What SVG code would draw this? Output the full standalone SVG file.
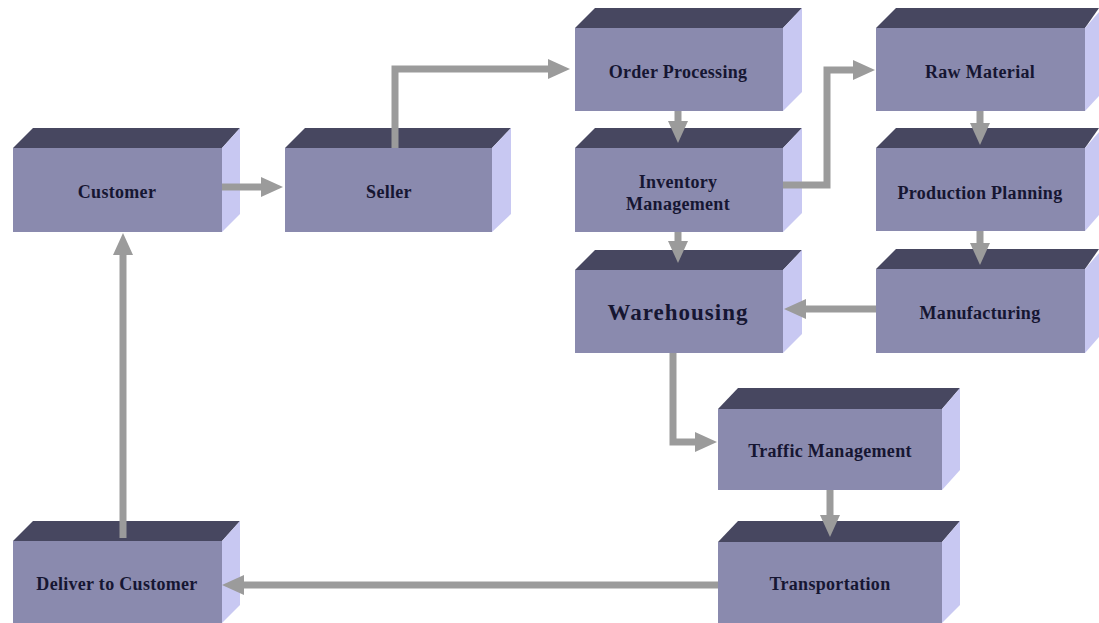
<svg xmlns="http://www.w3.org/2000/svg" width="1099" height="623" viewBox="0 0 1099 623">
  <defs>
    <style>
      .front { fill: #8a8aae; }
      .top { fill: #474760; }
      .side { fill: #c8c8f2; }
      .label { font-family: "Liberation Serif", "Times New Roman", serif; font-weight: bold; font-size: 18px; letter-spacing: 0.3px; fill: #161632; text-anchor: middle; dominant-baseline: central; }
      .big { font-size: 23px; letter-spacing: 1px; }
      .conn { fill: none; stroke: #9b9b9b; stroke-width: 7; stroke-linejoin: miter; }
    </style>
    <marker id="arrow" viewBox="0 0 22 20" markerWidth="22" markerHeight="20" refX="10" refY="10" orient="auto" markerUnits="userSpaceOnUse">
      <path d="M0,0 L22,10 L0,20 z" fill="#9b9b9b"/>
    </marker>
  </defs>
  <rect width="1099" height="623" fill="#ffffff"/>

  <!-- Nodes: front face, top face, right side face -->
  <g id="customer">
    <polygon class="top" points="13,148 33,128 240,128 222,148"/>
    <polygon class="side" points="222,148 240,128 240,214 222,232"/>
    <rect class="front" x="13" y="148" width="209" height="84"/>
    <text class="label" x="117" y="192">Customer</text>
  </g>
  <g id="seller">
    <polygon class="top" points="285,148 305,128 511,128 492,148"/>
    <polygon class="side" points="492,148 511,128 511,214 492,232"/>
    <rect class="front" x="285" y="148" width="207" height="84"/>
    <text class="label" x="389" y="192">Seller</text>
  </g>
  <g id="order-processing">
    <polygon class="top" points="575,28 595,8 802,8 783,28"/>
    <polygon class="side" points="783,28 802,8 802,92 783,111"/>
    <rect class="front" x="575" y="28" width="208" height="83"/>
    <text class="label" x="678" y="72">Order Processing</text>
  </g>
  <g id="raw-material">
    <polygon class="top" points="876,28 896,8 1099,8 1085,28"/>
    <polygon class="side" points="1085,28 1099,12 1099,96 1085,111"/>
    <rect class="front" x="876" y="28" width="209" height="83"/>
    <text class="label" x="980" y="72">Raw Material</text>
  </g>
  <g id="inventory-management">
    <polygon class="top" points="575,148 595,128 802,128 783,148"/>
    <polygon class="side" points="783,148 802,128 802,213 783,232"/>
    <rect class="front" x="575" y="148" width="208" height="84"/>
    <text class="label" x="678" y="182">Inventory</text>
    <text class="label" x="678" y="204">Management</text>
  </g>
  <g id="production-planning">
    <polygon class="top" points="876,148 896,128 1099,128 1085,148"/>
    <polygon class="side" points="1085,148 1099,132 1099,215 1085,231"/>
    <rect class="front" x="876" y="148" width="209" height="83"/>
    <text class="label" x="980" y="193">Production Planning</text>
  </g>
  <g id="warehousing">
    <polygon class="top" points="575,270 595,250 802,250 783,270"/>
    <polygon class="side" points="783,270 802,250 802,334 783,353"/>
    <rect class="front" x="575" y="270" width="208" height="83"/>
    <text class="label big" x="678" y="312">Warehousing</text>
  </g>
  <g id="manufacturing">
    <polygon class="top" points="876,269 896,249 1099,249 1085,269"/>
    <polygon class="side" points="1085,269 1099,253 1099,337 1085,353"/>
    <rect class="front" x="876" y="269" width="209" height="84"/>
    <text class="label" x="980" y="313">Manufacturing</text>
  </g>
  <g id="traffic-management">
    <polygon class="top" points="718,409 738,388 960,388 942,409"/>
    <polygon class="side" points="942,409 960,388 960,470 942,490"/>
    <rect class="front" x="718" y="409" width="224" height="81"/>
    <text class="label" x="830" y="451">Traffic Management</text>
  </g>
  <g id="transportation">
    <polygon class="top" points="718,542 738,521 960,521 942,542"/>
    <polygon class="side" points="942,542 960,521 960,605 942,623"/>
    <rect class="front" x="718" y="542" width="224" height="81"/>
    <text class="label" x="830" y="584">Transportation</text>
  </g>
  <g id="deliver-to-customer">
    <polygon class="top" points="13,541 33,521 240,521 222,541"/>
    <polygon class="side" points="222,541 240,521 240,605 222,623"/>
    <rect class="front" x="13" y="541" width="209" height="82"/>
    <text class="label" x="117" y="584">Deliver to Customer</text>
  </g>

  <!-- Connectors -->
  <g id="connectors">
    <path class="conn" marker-end="url(#arrow)" d="M222,187 L271,187"/>
    <path class="conn" marker-end="url(#arrow)" d="M395,148 L395,69 L558,69"/>
    <path class="conn" marker-end="url(#arrow)" d="M678,111 L678,131"/>
    <path class="conn" marker-end="url(#arrow)" d="M783,185 L827,185 L827,70 L863,70"/>
    <path class="conn" marker-end="url(#arrow)" d="M678,232 L678,251"/>
    <path class="conn" marker-end="url(#arrow)" d="M980,111 L980,133"/>
    <path class="conn" marker-end="url(#arrow)" d="M980,231 L980,253"/>
    <path class="conn" marker-end="url(#arrow)" d="M876,309 L796,309"/>
    <path class="conn" marker-end="url(#arrow)" d="M673,353 L673,442 L705,442"/>
    <path class="conn" marker-end="url(#arrow)" d="M830,490 L830,525"/>
    <path class="conn" marker-end="url(#arrow)" d="M718,585 L234,585"/>
    <path class="conn" marker-end="url(#arrow)" d="M123,538 L123,245"/>
  </g>
</svg>
